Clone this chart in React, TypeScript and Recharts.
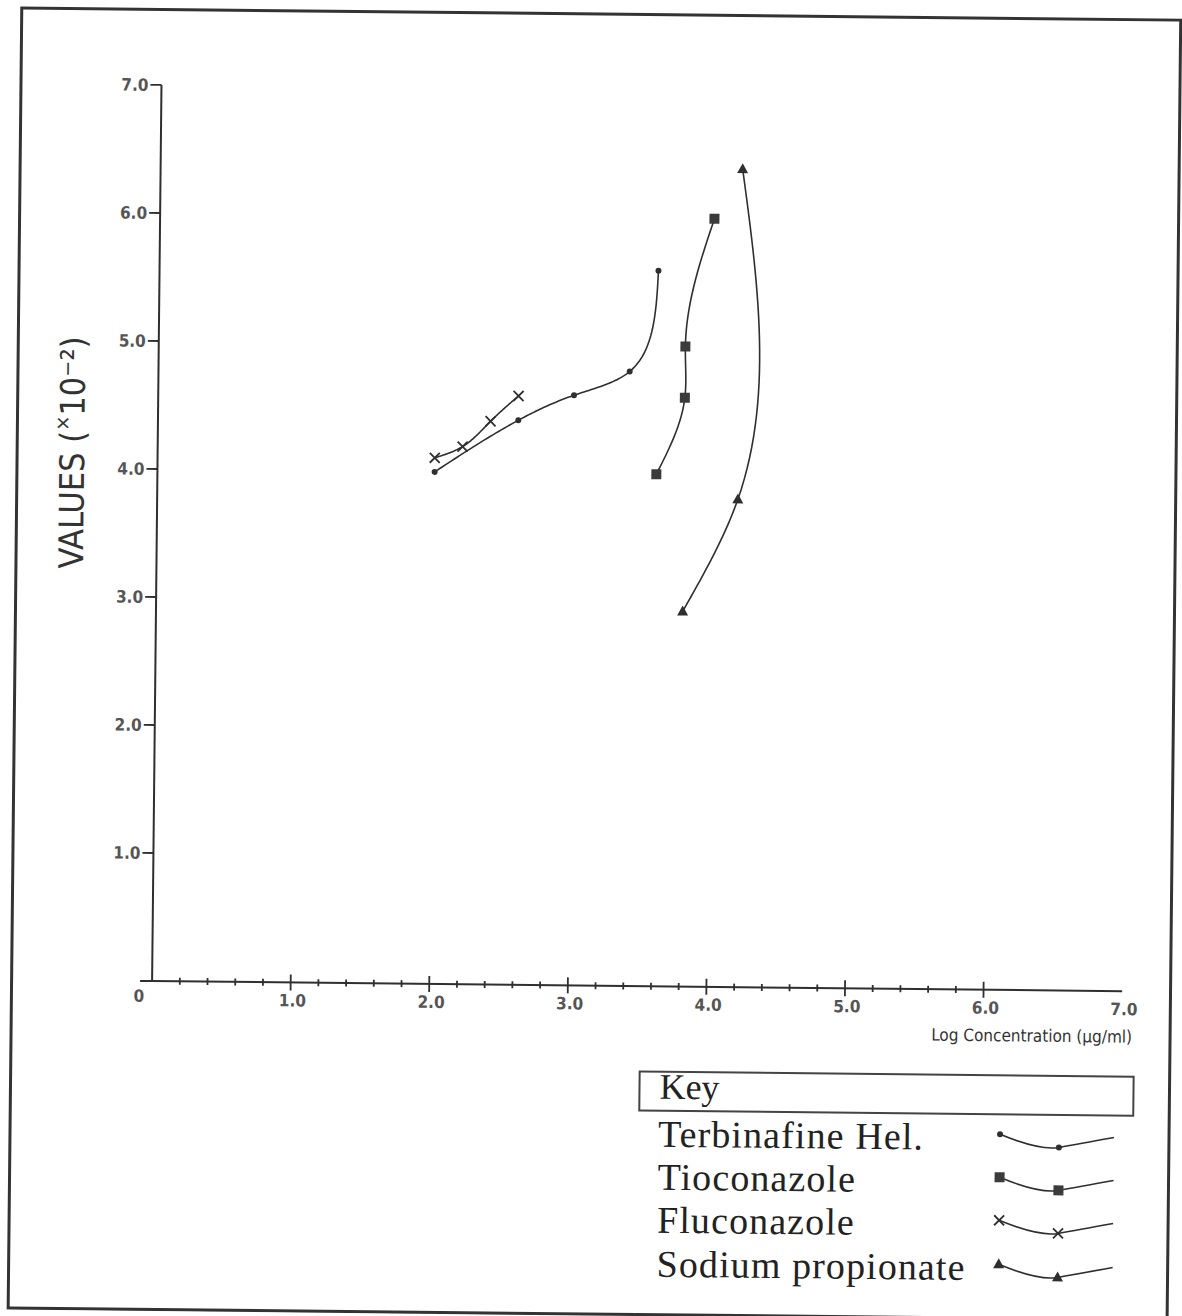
import React from 'react';
import { LineChart, Line, XAxis, YAxis } from 'recharts';

// values (x = log concentration, y = value x10^-2)
const TERBINAFINE_X = [2.0, 2.6, 3.0, 3.4, 3.6];
const TERBINAFINE_Y = [4.0, 4.41, 4.61, 4.8, 5.59];
const TIOCONAZOLE_X = [3.6, 3.8, 3.8, 4.0];
const TIOCONAZOLE_Y = [4.0, 4.6, 5.0, 6.0];
const FLUCONAZOLE_X = [2.0, 2.2, 2.4, 2.6];
const FLUCONAZOLE_Y = [4.11, 4.2, 4.4, 4.6];
const SODIUM_X = [3.8, 4.19, 4.2];
const SODIUM_Y = [2.93, 3.81, 6.39];

const SERIES_NAMES = ['Terbinafine Hel.', 'Tioconazole', 'Fluconazole', 'Sodium propionate'];
const SERIES_MARKERS = ['dot', 'square', 'cross', 'triangle'];

const X_TICKS = [
  0, 0.2, 0.4, 0.6, 0.8, 1, 1.2, 1.4, 1.6, 1.8, 2, 2.2, 2.4, 2.6, 2.8, 3, 3.2, 3.4, 3.6, 3.8,
  4, 4.2, 4.4, 4.6, 4.8, 5, 5.2, 5.4, 5.6, 5.8, 6, 7,
];
const Y_TICKS = [1, 2, 3, 4, 5, 6, 7];

const INK = '#2f2f2f';
const SANS = '"DejaVu Sans Condensed", "DejaVu Sans", sans-serif';
const SERIF = '"Liberation Serif", "Times New Roman", serif';

const toPoints = (xs: number[], ys: number[]) => xs.map((x, i) => ({ x, y: ys[i] }));

const SERIES = [
  toPoints(TERBINAFINE_X, TERBINAFINE_Y),
  toPoints(TIOCONAZOLE_X, TIOCONAZOLE_Y),
  toPoints(FLUCONAZOLE_X, FLUCONAZOLE_Y),
  toPoints(SODIUM_X, SODIUM_Y),
];

// natural cubic spline second derivatives
function secondDerivs(t: number[], v: number[]) {
  const n = v.length;
  const M = new Array(n).fill(0);
  if (n < 3) return M;
  const a: number[] = [], b: number[] = [], c: number[] = [], d: number[] = [];
  for (let i = 1; i < n - 1; i++) {
    const h0 = t[i] - t[i - 1], h1 = t[i + 1] - t[i];
    a.push(h0);
    b.push(2 * (h0 + h1));
    c.push(h1);
    d.push(6 * ((v[i + 1] - v[i]) / h1 - (v[i] - v[i - 1]) / h0));
  }
  const m = b.length;
  for (let i = 1; i < m; i++) {
    const w = a[i] / b[i - 1];
    b[i] -= w * c[i - 1];
    d[i] -= w * d[i - 1];
  }
  const sol = new Array(m);
  sol[m - 1] = d[m - 1] / b[m - 1];
  for (let i = m - 2; i >= 0; i--) sol[i] = (d[i] - c[i] * sol[i + 1]) / b[i];
  for (let i = 0; i < m; i++) M[i + 1] = sol[i];
  return M;
}

// chord-length parametrised natural spline, used as a d3 curve factory
const chordSpline = (ctx: any) => {
  let px: number[] = [];
  let py: number[] = [];
  return {
    areaStart() {},
    areaEnd() {},
    lineStart() {
      px = [];
      py = [];
    },
    point(x: number, y: number) {
      px.push(+x);
      py.push(+y);
    },
    lineEnd() {
      const n = px.length;
      if (!n) return;
      ctx.moveTo(px[0], py[0]);
      if (n === 1) return;
      const t = [0];
      for (let i = 1; i < n; i++) t.push(t[i - 1] + Math.max(Math.hypot(px[i] - px[i - 1], py[i] - py[i - 1]), 0.5));
      const mx = secondDerivs(t, px);
      const my = secondDerivs(t, py);
      const ev = (v: number[], M: number[], i: number, s: number) => {
        const h = t[i + 1] - t[i];
        const A = t[i + 1] - s, B = s - t[i];
        return (M[i] * A * A * A) / (6 * h) + (M[i + 1] * B * B * B) / (6 * h) +
          (v[i] - (M[i] * h * h) / 6) * (A / h) + (v[i + 1] - (M[i + 1] * h * h) / 6) * (B / h);
      };
      for (let i = 0; i < n - 1; i++) {
        const steps = 30;
        for (let k = 1; k <= steps; k++) {
          const s = t[i] + ((t[i + 1] - t[i]) * k) / steps;
          ctx.lineTo(ev(px, mx, i, s), ev(py, my, i, s));
        }
      }
    },
  };
};

function Marker({ kind, cx, cy }: { kind: string; cx: number; cy: number }) {
  if (kind === 'dot') return <circle cx={cx} cy={cy} r={3} fill={INK} />;
  if (kind === 'square') return <rect x={cx - 5} y={cy - 5} width={10} height={10} fill="#3b3b3b" />;
  if (kind === 'cross')
    return (
      <path
        d={`M${cx - 5},${cy - 5}L${cx + 5},${cy + 5}M${cx - 5},${cy + 5}L${cx + 5},${cy - 5}`}
        stroke={INK}
        strokeWidth={1.8}
      />
    );
  return <path d={`M${cx},${cy - 6}L${cx + 5.5},${cy + 4}L${cx - 5.5},${cy + 4}Z`} fill={INK} />;
}

function XTick({ x, y, payload }: any) {
  const v = payload.value;
  const major = Number.isInteger(v);
  if (v === 0) {
    return (
      <g>
        <line x1={x - 12} x2={x} y1={y} y2={y} stroke={INK} strokeWidth={2} />
        <text x={x - 13} y={y + 15} textAnchor="middle" dominantBaseline="central" fontFamily={SANS} fontSize={17} fontWeight="bold" fill="#555">
          0
        </text>
      </g>
    );
  }
  return (
    <g>
      {v < 7 && (
        <line x1={x} x2={x} y1={y - (major ? 8 : 3.5)} y2={y + (major ? 8 : 3.5)} stroke={INK} strokeWidth={1.8} />
      )}
      {major && (
        <text x={x + 2} y={y + 18} textAnchor="middle" dominantBaseline="central" fontFamily={SANS} fontSize={17} fontWeight="bold" fill="#555">
          {v.toFixed(1)}
        </text>
      )}
    </g>
  );
}

function YTick({ x, y, payload }: any) {
  return (
    <g>
      <line x1={x - 11} x2={x} y1={y} y2={y} stroke={INK} strokeWidth={1.8} />
      <text x={x - 13} y={y} textAnchor="end" dominantBaseline="central" fontFamily={SANS} fontSize={17} fontWeight="bold" fill="#555">
        {payload.value.toFixed(1)}
      </text>
    </g>
  );
}

const yTitle = () => (
  <text x={70} y={458} transform="rotate(-90 70 458)" textAnchor="middle" dominantBaseline="central" fontFamily={SANS} fontSize={34} fill="#333">
    VALUES (<tspan fontSize={20} dy={-10}>×</tspan>
    <tspan dy={10}>10</tspan>
    <tspan>⁻²</tspan>)
  </text>
);

const xTitle = () => (
  <text x={1136} y={1031} textAnchor="end" dominantBaseline="central" fontFamily={SANS} fontSize={17} fill="#333">
    Log Concentration (µg/ml)
  </text>
);

function Key() {
  const rowsY = [1146, 1189, 1232, 1276];
  return (
    <svg width={1182} height={1316} style={{ position: 'absolute', left: 0, top: 0, pointerEvents: 'none' }}>
      <rect x={15} y={14} width={1159} height={1300} fill="none" stroke="#333" strokeWidth={3} />
      <rect x={644} y={1071} width={494} height={39} fill="none" stroke="#444" strokeWidth={2} />
      <text x={664} y={1098} fontFamily={SERIF} fontSize={36} fill="#222">
        Key
      </text>
      {SERIES_NAMES.map((name, i) => {
        const base = rowsY[i];
        const sx = 1005;
        const sy = base - 16;
        return (
          <g key={name}>
            <text x={663} y={base} fontFamily={SERIF} fontSize={38} letterSpacing={1.1} fill="#222">
              {name}
            </text>
            <path
              d={`M${sx},${sy} Q${sx + 40},${sy + 16} ${sx + 59},${sy + 12.5} T${sx + 114},${sy + 2}`}
              fill="none"
              stroke={INK}
              strokeWidth={1.6}
            />
            <Marker kind={SERIES_MARKERS[i]} cx={sx} cy={sy} />
            <Marker kind={SERIES_MARKERS[i]} cx={sx + 59} cy={sy + 12.5} />
          </g>
        );
      })}
    </svg>
  );
}

export default function App() {
  return (
    <div
      style={{
        position: 'absolute',
        left: 0,
        top: 0,
        width: 1182,
        height: 1316,
        background: '#fff',
        transform: 'rotate(0.6deg)',
        transformOrigin: '591px 658px',
      }}
    >
      <LineChart width={1182} height={1316} margin={{ top: 89.5, right: 56.4, left: 95.5, bottom: 300.4 }}>
        <XAxis
          type="number"
          dataKey="x"
          domain={[0, 7]}
          ticks={X_TICKS}
          interval={0}
          tickSize={0}
          tickMargin={0}
          tick={<XTick />}
          height={30}
          axisLine={{ stroke: INK, strokeWidth: 2 }}
          label={{ content: xTitle }}
        />
        <YAxis
          type="number"
          domain={[0, 7]}
          ticks={Y_TICKS}
          interval={0}
          tickSize={0}
          tickMargin={0}
          tick={<YTick />}
          width={60}
          axisLine={{ stroke: INK, strokeWidth: 2 }}
          label={{ content: yTitle }}
        />
        {SERIES.map((data, i) => (
          <Line
            key={SERIES_NAMES[i]}
            data={data}
            dataKey="y"
            name={SERIES_NAMES[i]}
            type={chordSpline as any}
            stroke={INK}
            strokeWidth={1.6}
            isAnimationActive={false}
            dot={(p: any) => <Marker key={`${i}-${p.index}`} kind={SERIES_MARKERS[i]} cx={p.cx} cy={p.cy} />}
            activeDot={false}
          />
        ))}
      </LineChart>
      <Key />
    </div>
  );
}
